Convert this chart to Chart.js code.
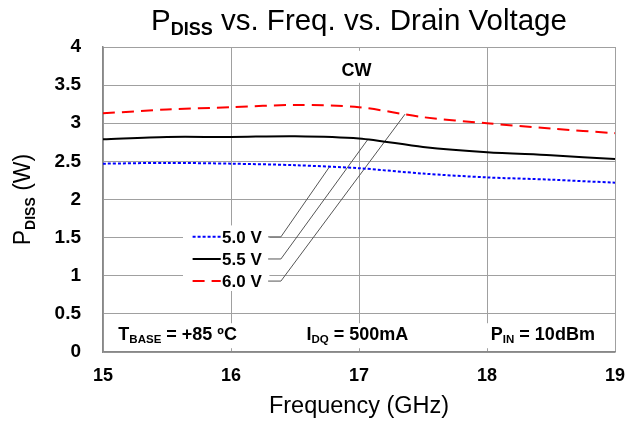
<!DOCTYPE html>
<html>
<head>
<meta charset="utf-8">
<script src="https://cdn.jsdelivr.net/npm/chart.js@4"></script>
<style>
  html, body { margin: 0; padding: 0; background: #fff; }
  #wrap { width: 639px; height: 423px; }
</style>
</head>
<body>
<div id="wrap"><canvas id="pdiss"></canvas></div>
<script>
// frequency points (GHz)
const freqs = [15, 15.5, 16, 16.5, 17, 17.5, 18, 18.5, 19];
// dissipated power (W) per drain voltage
const v50 = [2.47, 2.48, 2.47, 2.45, 2.41, 2.34, 2.29, 2.26, 2.22];
const v55 = [2.79, 2.82, 2.82, 2.83, 2.80, 2.69, 2.62, 2.58, 2.53];
const v60 = [3.13, 3.18, 3.21, 3.24, 3.21, 3.08, 3.00, 2.93, 2.87];
const seriesLabels = ['5.0 V', '5.5 V', '6.0 V'];
const xTicks = [15, 16, 17, 18, 19];
const yTicks = [0, 0.5, 1, 1.5, 2, 2.5, 3, 3.5, 4];

// leader lines from legend labels to curves (data units)
const leader50 = [[16.29, 1.51], [16.39, 1.51], [16.77, 2.43]];
const leader55 = [[16.29, 1.22], [16.39, 1.22], [17.07, 2.79]];
const leader60 = [[16.29, 0.93], [16.39, 0.93], [17.36, 3.12]];

const FONT = '"Liberation Sans", Arial, sans-serif';

function pts(xs, ys) {
    return xs.map((x, i) => ({ x: x, y: ys[i] }));
}
function pairs(arr) {
    return arr.map(p => ({ x: p[0], y: p[1] }));
}

// draw a string made of parts with different fonts / baseline shifts
function drawRich(ctx, parts, x, y, align) {
    let w = 0;
    parts.forEach(p => { ctx.font = p.font; w += ctx.measureText(p.t).width; });
    let cx = align === 'center' ? x - w / 2 : (align === 'right' ? x - w : x);
    ctx.textAlign = 'left';
    ctx.textBaseline = 'middle';
    parts.forEach(p => {
        ctx.font = p.font;
        ctx.fillText(p.t, cx, y + (p.dy || 0));
        cx += ctx.measureText(p.t).width;
    });
    return w;
}

const decorations = {
    id: 'decorations',
    beforeDatasetsDraw(chart) {
        const ctx = chart.ctx;
        const xs = chart.scales.x, ys = chart.scales.y;
        ctx.save();
        ctx.fillStyle = '#fff';
        // legend backdrop
        ctx.fillRect(xs.getPixelForValue(15.625), ys.getPixelForValue(1.66),
            xs.getPixelForValue(16.30) - xs.getPixelForValue(15.625),
            ys.getPixelForValue(0.80) - ys.getPixelForValue(1.66));

        // condition notes at the bottom
        const notes = [
            { x: 15.12, parts: [['T', 'bold 18px'], ['BASE', 'bold 11.5px', 5], [' = +85 \u00baC', 'bold 18px']] },
            { x: 16.59, parts: [['I', 'bold 18px'], ['DQ', 'bold 11.5px', 5], [' = 500mA', 'bold 18px']] },
            { x: 18.03, parts: [['P', 'bold 18px'], ['IN', 'bold 11.5px', 5], [' = 10dBm', 'bold 18px']] }
        ];
        const ny = ys.getPixelForValue(0.22);
        notes.forEach(n => {
            const parts = n.parts.map(p => ({ t: p[0], font: p[1] + ' ' + FONT, dy: p[2] || 0 }));
            let w = 0;
            parts.forEach(p => { ctx.font = p.font; w += ctx.measureText(p.t).width; });
            const nx = xs.getPixelForValue(n.x);
            ctx.fillStyle = '#fff';
            ctx.fillRect(nx - 4, ny - 12, w + 8, 25);
            ctx.fillStyle = '#000';
            drawRich(ctx, parts, nx, ny, 'left');
        });

        // CW label with backdrop
        const cwx = xs.getPixelForValue(16.98), cwy = ys.getPixelForValue(3.69);
        ctx.fillStyle = '#fff';
        ctx.fillRect(cwx - 22, ys.getPixelForValue(3.95), 44, ys.getPixelForValue(3.53) - ys.getPixelForValue(3.95));
        ctx.fillStyle = '#000';
        ctx.font = 'bold 18px ' + FONT;
        ctx.textAlign = 'center';
        ctx.textBaseline = 'middle';
        ctx.fillText('CW', cwx, cwy);

        // legend
        const sets = chart.data.datasets.slice(0, 3);
        const ly = [1.51, 1.22, 0.93];
        sets.forEach((ds, i) => {
            const y = ys.getPixelForValue(ly[i]);
            ctx.strokeStyle = ds.borderColor;
            ctx.lineWidth = ds.borderWidth;
            ctx.setLineDash(ds.borderDash || []);
            ctx.beginPath();
            ctx.moveTo(xs.getPixelForValue(15.70), y);
            ctx.lineTo(xs.getPixelForValue(15.92), y);
            ctx.stroke();
            ctx.setLineDash([]);
            ctx.fillStyle = '#000';
            ctx.font = 'bold 17px ' + FONT;
            ctx.textAlign = 'left';
            ctx.textBaseline = 'middle';
            ctx.fillText(seriesLabels[i], xs.getPixelForValue(15.93), y + 1);
        });
        ctx.restore();
    },
    afterDraw(chart) {
        const ctx = chart.ctx;
        const a = chart.chartArea;
        ctx.save();
        ctx.fillStyle = '#000';
        // title
        drawRich(ctx, [
            { t: 'P', font: '29.5px ' + FONT },
            { t: 'DISS', font: 'bold 18px ' + FONT, dy: 8 },
            { t: ' vs. Freq. vs. Drain Voltage', font: '29.5px ' + FONT }
        ], (a.left + a.right) / 2, 22, 'center');
        // x title
        drawRich(ctx, [{ t: 'Frequency (GHz)', font: '23.5px ' + FONT }], (a.left + a.right) / 2, 407, 'center');
        // y title
        ctx.translate(24, (a.top + a.bottom) / 2);
        ctx.rotate(-Math.PI / 2);
        drawRich(ctx, [
            { t: 'P', font: '23px ' + FONT },
            { t: 'DISS', font: 'bold 14px ' + FONT, dy: 7 },
            { t: ' (W)', font: '23px ' + FONT }
        ], 0, 0, 'center');
        ctx.restore();
    }
};

function leaderSet(arr) {
    return {
        data: pairs(arr),
        borderColor: '#555',
        borderWidth: 1,
        pointRadius: 0,
        tension: 0
    };
}

Chart.defaults.color = '#000';
Chart.defaults.font.family = FONT;

const ctx = document.getElementById('pdiss');
new Chart(ctx, {
    type: 'line',
    data: {
        datasets: [{
            label: seriesLabels[0],
            data: pts(freqs, v50),
            borderColor: '#0000ff',
            borderWidth: 2,
            borderDash: [3, 2],
            pointRadius: 0,
            tension: 0.3
        }, {
            label: seriesLabels[1],
            data: pts(freqs, v55),
            borderColor: '#000000',
            borderWidth: 2,
            pointRadius: 0,
            tension: 0.3
        }, {
            label: seriesLabels[2],
            data: pts(freqs, v60),
            borderColor: '#ff0000',
            borderWidth: 2,
            borderDash: [12, 7],
            pointRadius: 0,
            tension: 0.3
        },
        leaderSet(leader50),
        leaderSet(leader55),
        leaderSet(leader60)]
    },
    options: {
        responsive: true,
        maintainAspectRatio: false,
        animation: false,
        layout: {
            padding: { left: 0, right: 24, top: 47, bottom: 0 }
        },
        plugins: {
            legend: { display: false },
            tooltip: { enabled: false }
        },
        scales: {
            x: {
                type: 'linear',
                min: 15,
                max: 19,
                afterFit: s => { s.height = 71; },
                afterBuildTicks: s => { s.ticks = xTicks.map(v => ({ value: v })); },
                grid: { color: '#a0a0a0', lineWidth: 1, drawTicks: false },
                border: { color: '#888', width: 1.5 },
                ticks: { padding: 13, font: { size: 18, weight: 'bold' } }
            },
            y: {
                min: 0,
                max: 4,
                afterFit: s => { s.width = 103; },
                afterBuildTicks: s => { s.ticks = yTicks.map(v => ({ value: v })); },
                grid: { color: '#a0a0a0', lineWidth: 1, drawTicks: false },
                border: { color: '#888', width: 1.5 },
                ticks: {
                    padding: 22,
                    font: { size: 19, weight: 'bold' },
                    callback: v => String(v)
                }
            }
        }
    },
    plugins: [decorations]
});
</script>
</body>
</html>
